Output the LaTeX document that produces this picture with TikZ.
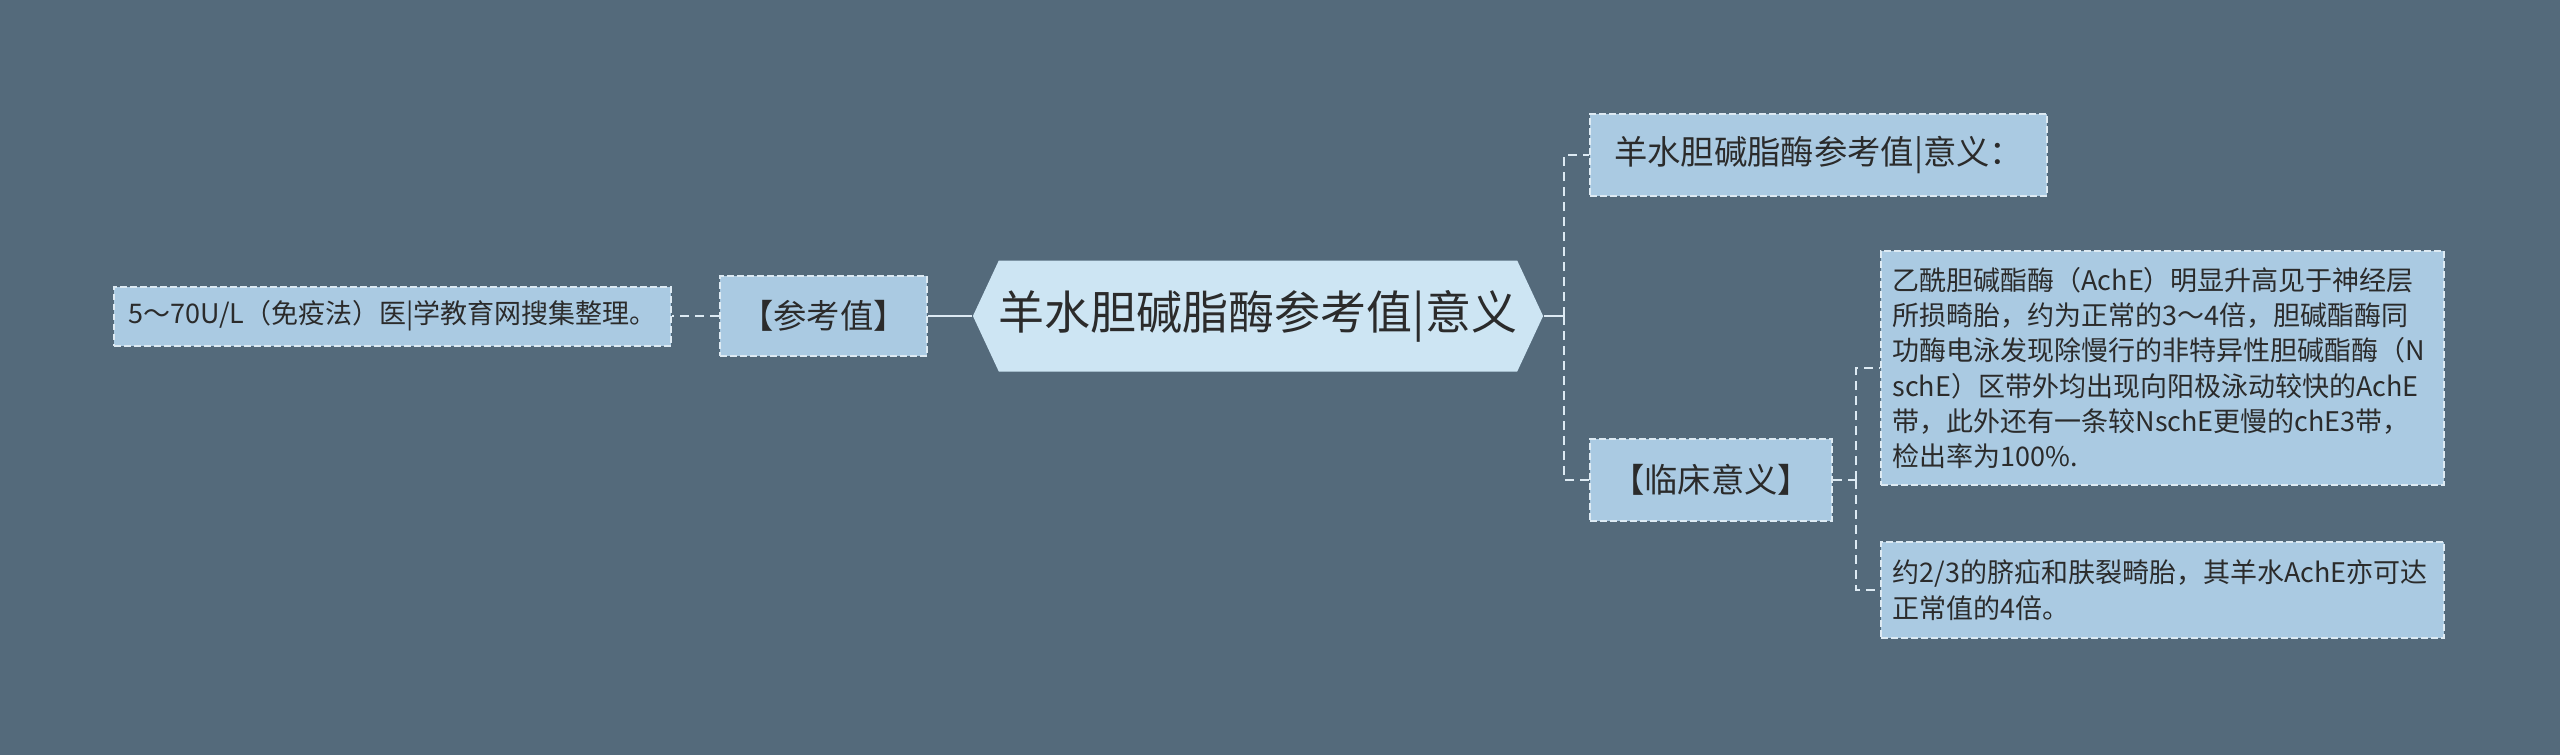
\documentclass[tikz,border=0pt]{standalone}
\usepackage{fontspec}
\setmainfont{Noto Sans CJK SC}
\usepackage{tikz}
\usetikzlibrary{positioning,shapes.symbols}

\definecolor{bgcol}{HTML}{546A7B}
\definecolor{rootfill}{HTML}{CDE5F3}
\definecolor{boxfill}{HTML}{AACAE2}
\definecolor{edgecol}{HTML}{DDEAF3}
\definecolor{txtcol}{HTML}{2B2B2B}

\begin{document}
\begin{tikzpicture}
[x=0.3pt,y=-0.3pt]


    \tikzstyle{every node}=[text=txtcol,inner sep=0pt]
    \tikzstyle{rootnode}=[shape=signal,signal to=west and east,
                          signal pointer angle=130,fill=rootfill,
                          minimum width=169.8pt,minimum height=33.3pt,
                          font=\fontsize{13.8}{16}\selectfont]
    \tikzstyle{topicbox}=[draw=edgecol,fill=boxfill,line width=0.6pt,
                          dash pattern=on 2pt off 1pt,minimum height=24.6pt,
                          font=\fontsize{10}{12}\selectfont]
    \tikzstyle{leafbox}=[draw=edgecol,fill=boxfill,line width=0.6pt,
                         dash pattern=on 2pt off 1pt,
                         font=\fontsize{8.1}{10.6}\selectfont]
    \tikzstyle{link}=[edgecol,line width=0.6pt,dash pattern=on 2.7pt off 1.8pt]
    \tikzstyle{rootlink}=[edgecol,line width=0.6pt]

    % background and page size
    \fill[bgcol] (0,0) rectangle (2560,755);
    \useasboundingbox (0,0) rectangle (2560,755);

    % the middle topic
    \node[rootnode] (root) at (1258,316) {羊水胆碱脂酶参考值|意义};

    % left branch
    \node[topicbox,minimum width=62.1pt,minimum height=24pt] (refval) at (823.5,316) {【参考值】};
    \node[leafbox,minimum width=167.1pt,minimum height=17.7pt] (refleaf) at (392.5,316)
        {5～70U/L（免疫法）医|学教育网搜集整理。};

    % right branch
    \node[topicbox,minimum width=137.1pt] (meaning) at (1818.5,155) {羊水胆碱脂酶参考值|意义：};
    \node[topicbox,minimum width=72.6pt] (clinic) at (1711,480) {【临床意义】};

    \node[leafbox,text width=162pt,inner xsep=3.45pt,minimum height=70.2pt,align=left] (clinleafa) at (2162.5,368)
        {乙酰胆碱酯酶（AchE）明显升高见于神经层\\
         所损畸胎，约为正常的3～4倍，胆碱酯酶同\\
         功酶电泳发现除慢行的非特异性胆碱酯酶（N\\
         schE）区带外均出现向阳极泳动较快的AchE\\
         带，此外还有一条较NschE更慢的chE3带，\\
         检出率为100\%.};
    \node[leafbox,text width=162pt,inner xsep=3.45pt,minimum height=28.8pt,align=left] (clinleafb) at (2162.5,590)
        {约2/3的脐疝和肤裂畸胎，其羊水AchE亦可达\\
         正常值的4倍。};

    % connectors
    \coordinate (rjoin) at (1564,316);
    \coordinate (cjoin) at (1856,480);

    \draw[rootlink] (root.west) -- (refval.east);
    \draw[link] (refval.west) -- (refleaf.east);

    \draw[rootlink] (root.east) -- (rjoin);
    \draw[link] (rjoin) |- (meaning.west);
    \draw[link] (rjoin) |- (clinic.west);

    \draw[link] (clinic.east) -- (cjoin);
    \draw[link] (cjoin) |- (clinleafa.west);
    \draw[link] (cjoin) |- (clinleafb.west);

 \end{tikzpicture}
\end{document}
